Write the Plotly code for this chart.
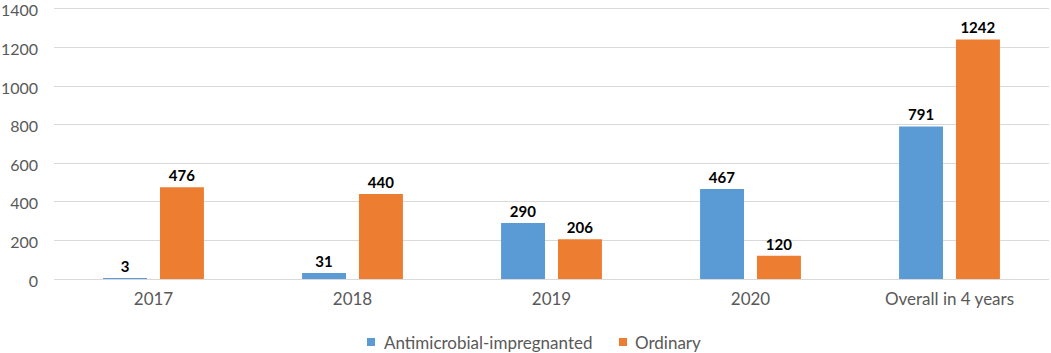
import plotly.graph_objects as go

categories = ["2017", "2018", "2019", "2020", "Overall in 4 years"]
antimicrobial = [3, 31, 290, 467, 791]
ordinary = [476, 440, 206, 120, 1242]
series_names = ["Antimicrobial-impregnanted", "Ordinary"]
series_colors = ["#5B9BD5", "#ED7D31"]
y_ticks = [0, 200, 400, 600, 800, 1000, 1200, 1400]

FONT = "Lato, Carlito, Calibri, sans-serif"
W, H = 1051, 353
ML, MR, MT, MB = 54, 2, 6, 74
Y_MAX = 1415

fig = go.Figure()
for name, vals, col in zip(series_names, [antimicrobial, ordinary], series_colors):
    fig.add_trace(go.Bar(
        x=categories, y=vals, name=name,
        marker=dict(color=col, line=dict(width=0)),
        text=[str(v) for v in vals], textposition="outside",
        textfont=dict(family=FONT, size=15, color="#000000"),
        texttemplate="<b>%{text}</b>", cliponaxis=False,
        showlegend=False,
    ))

# manual legend (small squares like the original)
def px_x(px):
    return (px - ML) / (W - ML - MR)

def px_y(py):
    return (H - MB - py) / (H - MT - MB)

legend_items = [(367, 382), (619, 633)]
shapes = []
annotations = []
for (sq_x, tx_x), name, col in zip(legend_items, series_names, series_colors):
    shapes.append(dict(type="rect", xref="paper", yref="paper",
                       x0=px_x(sq_x), x1=px_x(sq_x + 8),
                       y0=px_y(346), y1=px_y(338),
                       fillcolor=col, line=dict(width=0)))
    annotations.append(dict(xref="paper", yref="paper", x=px_x(tx_x), y=px_y(342),
                            xanchor="left", yanchor="middle", showarrow=False,
                            text=name, font=dict(family=FONT, size=17, color="#595959")))

fig.update_layout(
    width=W, height=H,
    margin=dict(l=ML, r=MR, t=MT, b=MB, autoexpand=False),
    paper_bgcolor="white", plot_bgcolor="white",
    barmode="group", bargap=0.428, bargroupgap=0.228,
    font=dict(family=FONT, size=17, color="#595959"),
    showlegend=False,
    shapes=shapes, annotations=annotations,
)
fig.update_yaxes(range=[0, Y_MAX], tickvals=y_ticks, showgrid=True,
                 gridcolor="#D9D9D9", gridwidth=1, zeroline=True,
                 zerolinecolor="#D9D9D9", zerolinewidth=1, showline=False,
                 ticks="", ticklabelstandoff=15, automargin=False,
                 ticklabeloverflow="allow", ticklabelshift=2,
                 tickfont=dict(family=FONT, size=16, color="#595959"))
fig.update_xaxes(showline=False, ticks="", showgrid=False, automargin=False,
                 ticklabelstandoff=8, ticklabeloverflow="allow",
                 tickfont=dict(family=FONT, size=17, color="#595959"))

fig.write_html(
    "out.html",
    config={"displayModeBar": False},
    post_script="document.body.style.margin='0';document.body.style.overflow='hidden';",
)
